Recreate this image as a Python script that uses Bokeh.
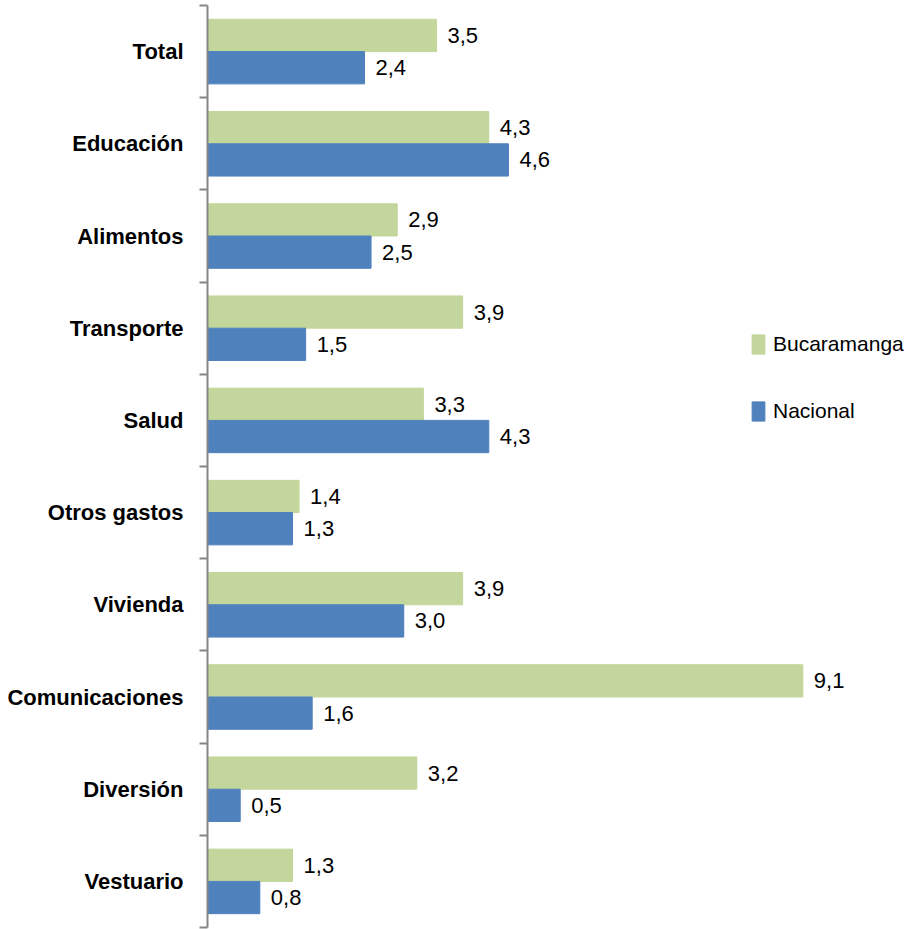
from bokeh.plotting import figure
from bokeh.models import ColumnDataSource, Range1d, FixedTicker, Legend, LegendItem
from bokeh.core.properties import value
from bokeh.embed import file_html
from bokeh.resources import INLINE

categories = ["Total", "Educación", "Alimentos", "Transporte", "Salud",
              "Otros gastos", "Vivienda", "Comunicaciones", "Diversión", "Vestuario"]
bucaramanga = [3.5, 4.3, 2.9, 3.9, 3.3, 1.4, 3.9, 9.1, 3.2, 1.3]
nacional = [2.4, 4.6, 2.5, 1.5, 4.3, 1.3, 3.0, 1.6, 0.5, 0.8]

FONT = "Liberation Sans"
GREEN = "#C3D69B"
BLUE = "#4F81BD"

n = len(categories)
centers = [n - 1 - i + 0.5 for i in range(n)]
bw = 0.35

def fmt(v):
    return f"{v:.1f}".replace(".", ",")

src_b = ColumnDataSource(dict(y=[c + bw / 2 for c in centers], x=bucaramanga,
                              lbl=[fmt(v) for v in bucaramanga]))
src_n = ColumnDataSource(dict(y=[c - bw / 2 for c in centers], x=nacional,
                              lbl=[fmt(v) for v in nacional]))

p = figure(width=907, height=929, output_backend="svg", toolbar_location=None,
           x_range=Range1d(0, 10.70), y_range=Range1d(0, n),
           min_border_left=207, min_border_right=0, min_border_top=5, min_border_bottom=2)
p.outline_line_color = None
p.xgrid.visible = False
p.ygrid.visible = False
p.xaxis.visible = False

rb = p.hbar(y="y", right="x", left=0, height=bw, source=src_b,
            fill_color=GREEN, line_color=GREEN)
rn = p.hbar(y="y", right="x", left=0, height=bw, source=src_n,
            fill_color=BLUE, line_color=BLUE)

for src in (src_b, src_n):
    p.text(x="x", y="y", text="lbl", source=src, x_offset=11,
           text_align="left", text_baseline="middle",
           text_font=value(FONT), text_font_size="22px", text_color="black")

ax = p.yaxis[0]
ax.ticker = FixedTicker(ticks=centers, minor_ticks=list(range(n + 1)))
ax.major_label_overrides = {c: categories[i] for i, c in enumerate(centers)}
ax.major_tick_out = 0
ax.major_tick_in = 0
ax.minor_tick_out = 8
ax.minor_tick_in = 0
ax.minor_tick_line_color = "#868686"
ax.minor_tick_line_width = 2
ax.axis_line_color = "#868686"
ax.axis_line_width = 2
ax.major_label_standoff = 16
ax.major_label_text_font = FONT
ax.major_label_text_font_style = "bold"
ax.major_label_text_font_size = "22px"
ax.major_label_text_color = "black"

legend = Legend(items=[LegendItem(label="Bucaramanga", renderers=[rb]),
                       LegendItem(label="Nacional", renderers=[rn])],
                location=(543, 504), padding=0, margin=0, spacing=43,
                glyph_width=16, glyph_height=24, label_height=24,
                label_standoff=7, border_line_color=None, background_fill_alpha=0,
                label_text_font=FONT, label_text_font_size="21px",
                label_text_color="black")
p.add_layout(legend)

open("out.html", "w").write(file_html(p, INLINE))
